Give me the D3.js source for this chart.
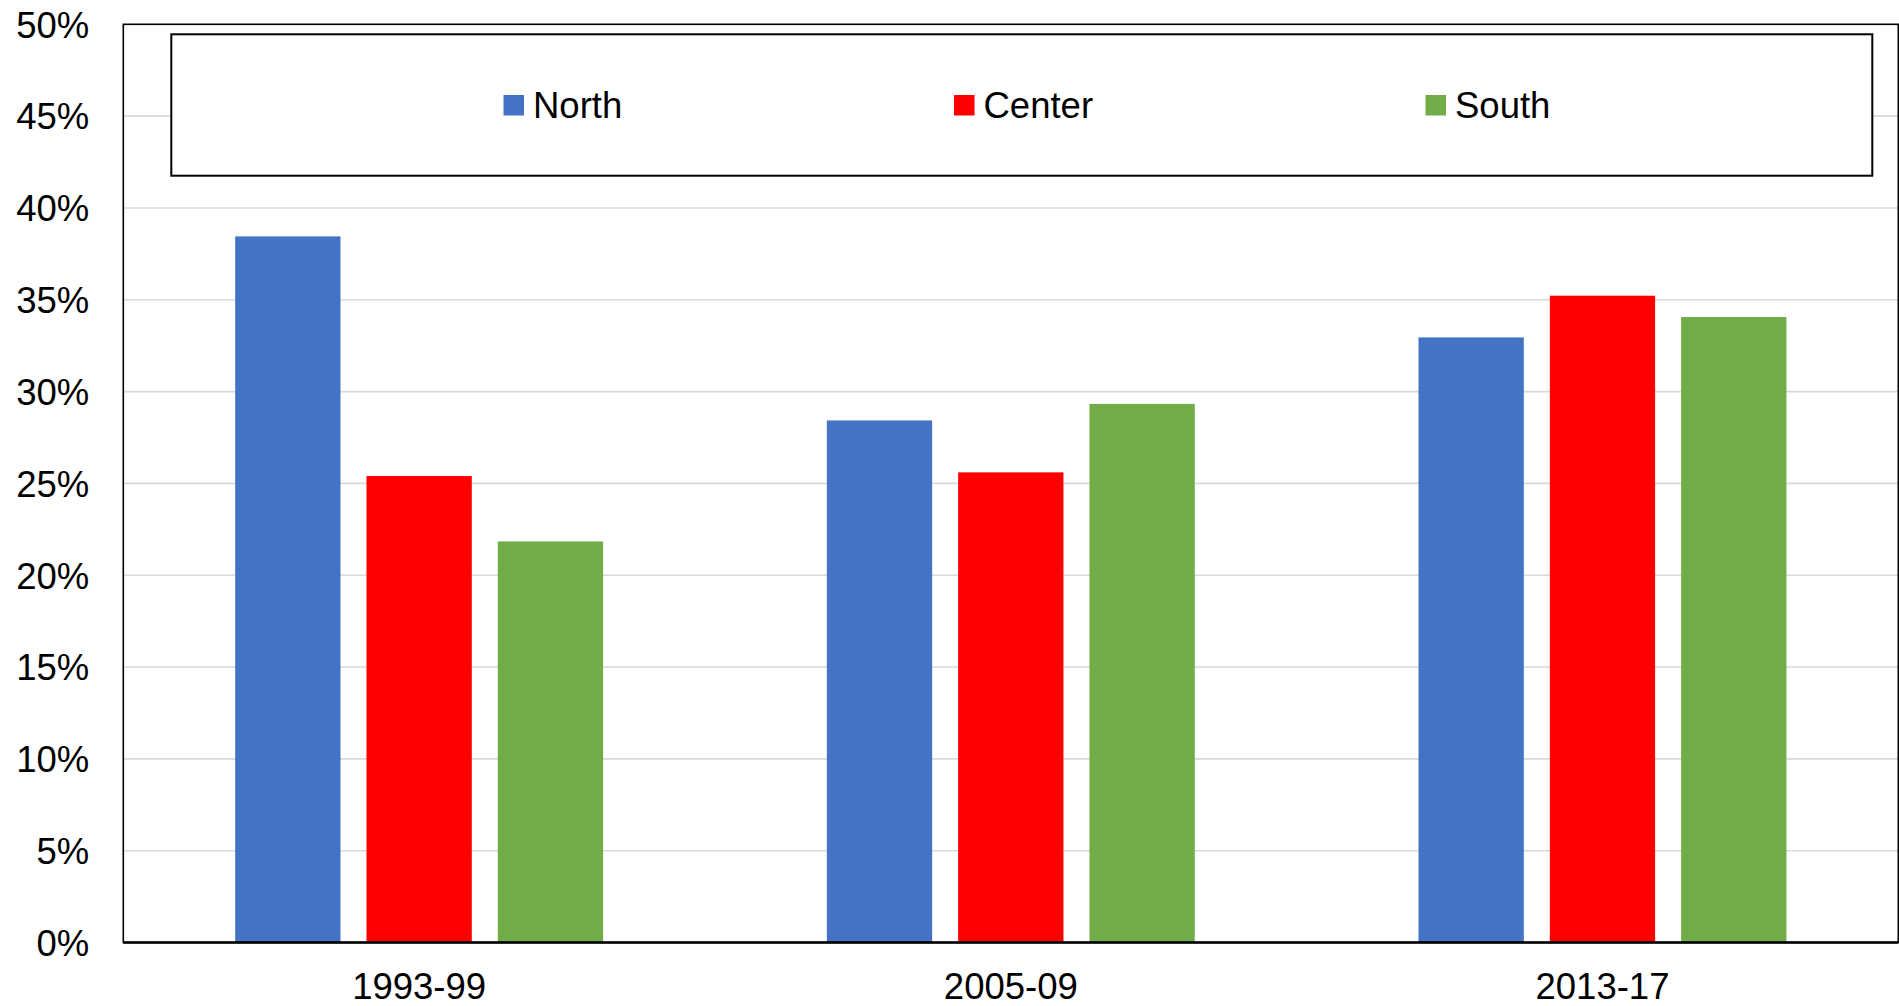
<!DOCTYPE html>
<html>
<head>
<meta charset="utf-8">
<script src="https://cdn.jsdelivr.net/npm/d3@7"></script>
<style>
  html, body { margin: 0; padding: 0; background: #fff; }
  svg { display: block; font-family: "Liberation Sans", Arial, sans-serif; }
</style>
</head>
<body>
<svg id="chart" width="1899" height="1006"></svg>
<script>
// Share of each region, by period (percent)
const periods = ["1993-99", "2005-09", "2013-17"];
const regions = ["North", "Center", "South"];
const north  = [38.45, 28.43, 32.95];
const center = [25.40, 25.60, 35.22];
const south  = [21.84, 29.33, 34.06];
const yTicks = [0, 5, 10, 15, 20, 25, 30, 35, 40, 45, 50];
const colors = ["#4472C4", "#FF0000", "#70AD47"];

const seriesValues = [north, center, south];
const data = periods.map((p, i) => ({
  period: p,
  values: regions.map((r, j) => ({ region: r, value: seriesValues[j][i] }))
}));

const svg = d3.select("#chart");
const plot = { left: 123.3, right: 1898.3, top: 24.3, bottom: 942.5 };
const fontSize = 36.5;

const x0 = d3.scaleBand().domain(periods).range([plot.left, plot.right]).padding(0);
const x1 = d3.scaleBand().domain(regions).range([0, x0.bandwidth()])
  .paddingInner(0.198).paddingOuter(0.852);
const y = d3.scaleLinear().domain([0, 50]).range([plot.bottom, plot.top]);
const color = d3.scaleOrdinal().domain(regions).range(colors);

// Horizontal gridlines
svg.append("g")
  .selectAll("line")
  .data(yTicks.filter(t => t > 0 && t < 50))
  .join("line")
  .attr("x1", plot.left).attr("x2", plot.right)
  .attr("y1", d => y(d)).attr("y2", d => y(d))
  .attr("stroke", "#d9d9d9").attr("stroke-width", 1.6);

// Bars
svg.append("g")
  .selectAll("g")
  .data(data)
  .join("g")
  .attr("transform", d => `translate(${x0(d.period)},0)`)
  .selectAll("rect")
  .data(d => d.values)
  .join("rect")
  .attr("x", d => x1(d.region))
  .attr("width", x1.bandwidth())
  .attr("y", d => y(d.value))
  .attr("height", d => y(0) - y(d.value))
  .attr("fill", d => color(d.region));

// Y axis labels
const yAxis = d3.axisLeft(y).tickValues(yTicks).tickFormat(d => d + "%").tickSize(0).tickPadding(34);
const ya = svg.append("g").attr("transform", `translate(${plot.left},0)`).call(yAxis);
ya.select(".domain").remove();
ya.selectAll("text").attr("font-size", fontSize).attr("fill", "#000")
  .attr("font-family", "'Liberation Sans', Arial, sans-serif").attr("dy", "0.35em");

// X axis labels
const xAxis = d3.axisBottom(x0).tickSize(0).tickPadding(31);
const xa = svg.append("g").attr("transform", `translate(0,${plot.bottom})`).call(xAxis);
xa.select(".domain").remove();
xa.selectAll("text").attr("font-size", fontSize).attr("fill", "#000")
  .attr("font-family", "'Liberation Sans', Arial, sans-serif");

// Plot frame
svg.append("rect")
  .attr("x", plot.left).attr("y", plot.top)
  .attr("width", plot.right - plot.left).attr("height", plot.bottom - plot.top)
  .attr("fill", "none").attr("stroke", "#000").attr("stroke-width", 1.6);
svg.append("line")
  .attr("x1", plot.left).attr("x2", plot.right)
  .attr("y1", plot.bottom).attr("y2", plot.bottom)
  .attr("stroke", "#000").attr("stroke-width", 2.4);

// Legend
const legend = svg.append("g");
legend.append("rect")
  .attr("x", 171.3).attr("y", 34.3).attr("width", 1701).attr("height", 141.4)
  .attr("fill", "#fff").attr("stroke", "#000").attr("stroke-width", 2);
const legendX = [503.5, 954, 1425.5];
const items = legend.selectAll("g.item").data(regions).join("g")
  .attr("class", "item")
  .attr("transform", (d, i) => `translate(${legendX[i]},95)`);
items.append("rect").attr("width", 20.5).attr("height", 20.5).attr("fill", d => color(d));
items.append("text")
  .attr("x", 29.5).attr("y", 23)
  .attr("font-size", fontSize).attr("fill", "#000")
  .text(d => d);
</script>
</body>
</html>
